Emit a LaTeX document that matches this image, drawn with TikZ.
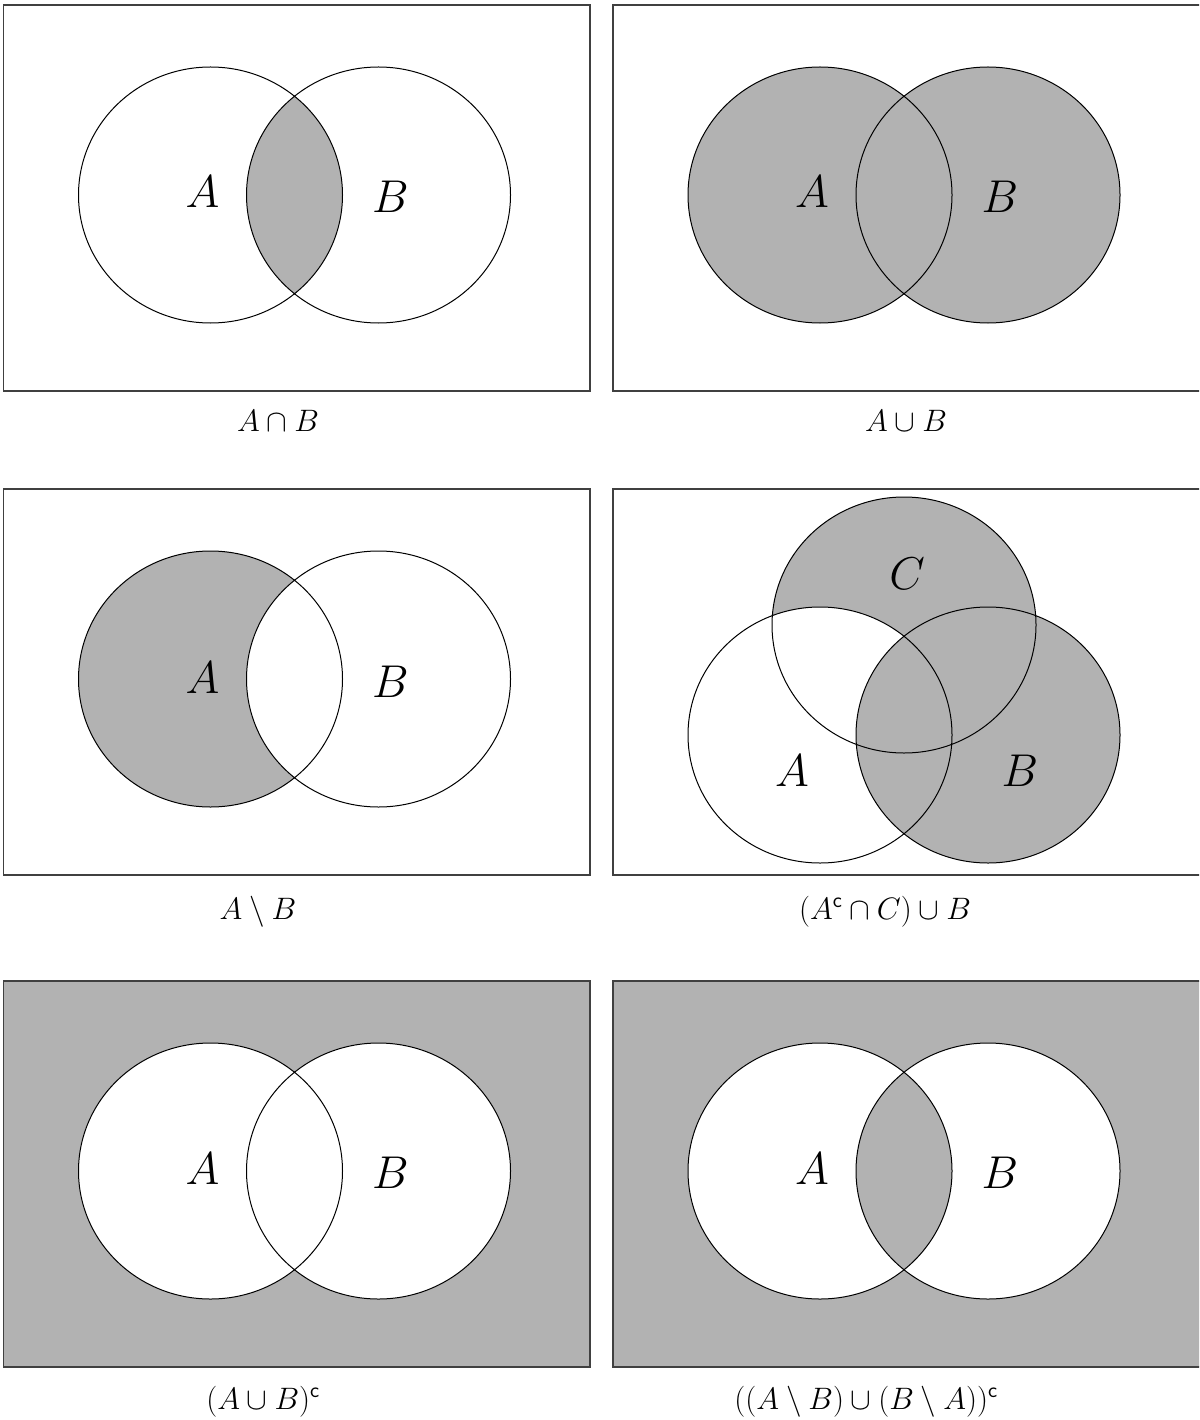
\RequirePackage{fix-cm}
\documentclass[tikz,border=0pt]{standalone}
\usepackage{amsmath}
\tikzset{
 panelframe/.style={draw=black!75, line width=1.5pt},
 setline/.style={draw=black, line width=1pt},
 shadedset/.style={fill=black!30},
 whiteset/.style={fill=white},
 setname/.style={font=\fontsize{46}{50}\selectfont, anchor=base, inner sep=0pt},
 captionlbl/.style={font=\fontsize{31}{36}\selectfont, anchor=base, inner sep=0pt},
 er/.style={x radius=132, y radius=128},
}
\begin{document}
\begin{tikzpicture}[x=1pt,y=-1pt]
\useasboundingbox (0,0) rectangle (1199,1420);
\clip (0,0) rectangle (1199,1420);

% Panel 1: A cap B
\begin{scope}[shift={(3.5,5)}]
 \begin{scope}
  \clip (207,190) ellipse [er];
  \fill[shadedset] (375,190) ellipse [er];
 \end{scope}
 \draw[setline] (207,190) ellipse [er] (375,190) ellipse [er];
 \draw[panelframe] (0,0) rectangle (586.5,386);
 \node[setname] (p1A) at (199,203) {$A$};
 \node[setname] (p1B) at (387,208) {$B$};
 \node[captionlbl] (p1cap) at (274.5,426) {$A\cap B$};
\end{scope}

% Panel 2: A cup B
\begin{scope}[shift={(613,5)}]
 \fill[shadedset] (207,190) ellipse [er] (375,190) ellipse [er];
 \draw[setline] (207,190) ellipse [er] (375,190) ellipse [er];
 \draw[panelframe] (0,0) rectangle (592,386);
 \node[setname] (p2A) at (199,203) {$A$};
 \node[setname] (p2B) at (387,208) {$B$};
 \node[captionlbl] (p2cap) at (293,426) {$A\cup B$};
\end{scope}

% Panel 3: A minus B
\begin{scope}[shift={(3.5,489)}]
 \fill[shadedset] (207,190) ellipse [er];
 \fill[whiteset] (375,190) ellipse [er];
 \draw[setline] (207,190) ellipse [er] (375,190) ellipse [er];
 \draw[panelframe] (0,0) rectangle (586.5,386);
 \node[setname] (p3A) at (199,204) {$A$};
 \node[setname] (p3B) at (387,208) {$B$};
 \node[captionlbl] (p3cap) at (254.5,430) {$A\setminus B$};
\end{scope}

% Panel 4: (A^c cap C) cup B
\begin{scope}[shift={(613,489)}]
 \fill[shadedset] (291,136) ellipse [er];
 \fill[whiteset] (207,246) ellipse [er];
 \fill[shadedset] (375,246) ellipse [er];
 \draw[setline] (291,136) ellipse [er] (207,246) ellipse [er] (375,246) ellipse [er];
 \draw[panelframe] (0,0) rectangle (592,386);
 \node[setname] (p4C) at (294,100) {$C$};
 \node[setname] (p4A) at (179,297) {$A$};
 \node[setname] (p4B) at (407,297) {$B$};
 \node[captionlbl] (p4cap) at (272,430) {$(A^{\mathsf{c}}\cap C)\cup B$};
\end{scope}

% Panel 5: (A cup B)^c
\begin{scope}[shift={(3.5,981)}]
 \fill[shadedset] (0,0) rectangle (586.5,386);
 \fill[whiteset] (207,190) ellipse [er] (375,190) ellipse [er];
 \draw[setline] (207,190) ellipse [er] (375,190) ellipse [er];
 \draw[panelframe] (0,0) rectangle (586.5,386);
 \node[setname] (p5A) at (199,203) {$A$};
 \node[setname] (p5B) at (387,207) {$B$};
 \node[captionlbl] (p5cap) at (259.5,428) {$(A\cup B)^{\mathsf{c}}$};
\end{scope}

% Panel 6: ((A minus B) cup (B minus A))^c
\begin{scope}[shift={(613,981)}]
 \fill[shadedset] (0,0) rectangle (592,386);
 \fill[whiteset] (207,190) ellipse [er] (375,190) ellipse [er];
 \begin{scope}
  \clip (207,190) ellipse [er];
  \fill[shadedset] (375,190) ellipse [er];
 \end{scope}
 \draw[setline] (207,190) ellipse [er] (375,190) ellipse [er];
 \draw[panelframe] (0,0) rectangle (592,386);
 \node[setname] (p6A) at (199,203) {$A$};
 \node[setname] (p6B) at (387,207) {$B$};
 \node[captionlbl] (p6cap) at (253,428) {$((A\setminus B)\cup(B\setminus A))^{\mathsf{c}}$};
\end{scope}
\end{tikzpicture}
\end{document}
